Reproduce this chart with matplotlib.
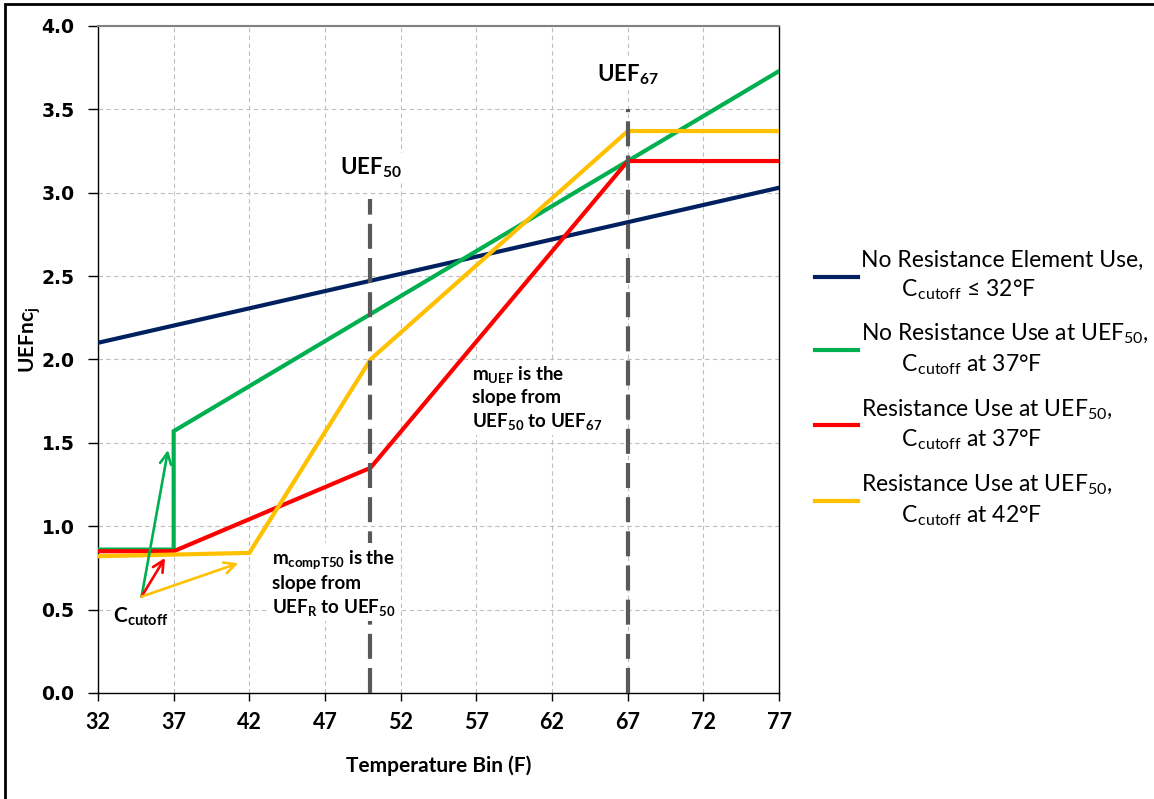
import matplotlib
matplotlib.use("Agg")
import matplotlib.pyplot as plt
from matplotlib.patches import Rectangle

plt.rcParams['font.family'] = ['Lato', 'DejaVu Sans']
plt.rcParams['mathtext.fontset'] = 'custom'
plt.rcParams['mathtext.rm'] = 'Lato'
plt.rcParams['mathtext.it'] = 'Lato:italic'
plt.rcParams['mathtext.bf'] = 'Lato:weight=bold'

# temperature bins (F) where each curve changes slope
blue_t = [32, 77]
blue_v = [2.10, 3.03]
green_t = [32, 37, 37, 67, 77]
green_v = [0.86, 0.86, 1.57, 3.19, 3.73]
red_t = [32, 37, 50, 67, 77]
red_v = [0.85, 0.85, 1.35, 3.19, 3.19]
yellow_t = [32, 42, 50, 67, 77]
yellow_v = [0.82, 0.84, 2.00, 3.37, 3.37]

labels = [
    "No Resistance Element Use,\n       C$_{\\mathrm{cutoff}}$ \u2264 32\u00b0F",
    "No Resistance Use at UEF$_{50}$,\n       C$_{\\mathrm{cutoff}}$ at 37\u00b0F",
    "Resistance Use at UEF$_{50}$,\n       C$_{\\mathrm{cutoff}}$ at 37\u00b0F",
    "Resistance Use at UEF$_{50}$,\n       C$_{\\mathrm{cutoff}}$ at 42\u00b0F",
]
colors = ['#002060', '#00B050', '#FF0000', '#FFC000']

x_ticks = list(range(32, 78, 5))
y_ticks = [0.0, 0.5, 1.0, 1.5, 2.0, 2.5, 3.0, 3.5, 4.0]

# reference temperatures and heights of the dashed markers
uef_marks = [50, 67]
uef_tops = [2.96, 3.50]

# cutoff arrows: common start, one head per curve
arrow_start = (34.88, 0.578)
arrow_heads = [(36.63, 1.457), (36.43, 0.81), (41.27, 0.778)]
arrow_colors = ['#00B050', '#FF0000', '#FFC000']

fig = plt.figure(figsize=(11.54, 7.99), dpi=100)
ax = fig.add_axes([0.0849, 0.1327, 0.5903, 0.8348])

series = [(blue_t, blue_v), (green_t, green_v), (red_t, red_v), (yellow_t, yellow_v)]
handles = []
for (t, v), c in zip(series, colors):
    ln, = ax.plot(t, v, color=c, lw=3, solid_joinstyle='miter', zorder=3)
    handles.append(ln)

ax.vlines(uef_marks, 0, uef_tops, colors='#595959', lw=3,
          linestyles=(0, (6, 2.2)), zorder=4)

for (hx, hy), c in zip(arrow_heads, arrow_colors):
    ax.annotate('', xy=(hx, hy), xytext=arrow_start,
                arrowprops=dict(arrowstyle='->,head_length=0.8,head_width=0.4',
                                color=c, lw=1.9, shrinkA=0, shrinkB=0),
                zorder=5)

# text boxes are opaque, so they mask the grid and dashed markers behind them
box = dict(facecolor='white', edgecolor='none', pad=2)
ax.text(34.84, 0.455, r'$\mathbf{C_{cutoff}}$', fontsize=15, ha='center', va='center',
        bbox=box, zorder=6)
ax.text(43.47, 0.66, "$\\mathbf{m_{compT50}}$ is the\nslope from\n$\\mathbf{UEF_{R}}$ to $\\mathbf{UEF_{50}}$",
        fontsize=13.5, fontweight='bold', ha='left', va='center', linespacing=1.3,
        bbox=box, zorder=6)
ax.text(56.69, 1.77, "$\\mathbf{m_{UEF}}$ is the\nslope from\n$\\mathbf{UEF_{50}}$ to $\\mathbf{UEF_{67}}$",
        fontsize=13.5, fontweight='bold', ha='left', va='center', linespacing=1.3,
        bbox=box, zorder=6)
ax.text(50, 3.15, r'$\mathbf{UEF_{50}}$', fontsize=16, ha='center', va='center',
        bbox=box, zorder=6)
ax.text(67, 3.71, r'$\mathbf{UEF_{67}}$', fontsize=16, ha='center', va='center',
        bbox=box, zorder=6)

ax.set_xlim(32, 77)
ax.set_ylim(0, 4)
ax.set_xticks(x_ticks)
ax.set_yticks(y_ticks)
ax.set_yticklabels([f'{y:.1f}' for y in y_ticks], family='DejaVu Sans',
                   fontweight='bold', fontsize=13.5)
ax.set_xticklabels([str(x) for x in x_ticks], fontweight='bold', fontsize=15.5)
ax.tick_params(axis='x', direction='out', length=6, width=1, pad=8)
ax.tick_params(axis='y', direction='out', length=7, width=1, pad=10)
ax.grid(True, color='#BFBFBF', lw=0.8, linestyle=(0, (4, 3)))
ax.set_axisbelow(True)
for s in ['left', 'bottom', 'right']:
    ax.spines[s].set_color('black')
    ax.spines[s].set_linewidth(1)
ax.spines['top'].set_color('#808080')
ax.spines['top'].set_linewidth(1.5)

ax.set_xlabel('Temperature Bin (F)', fontsize=15, fontweight='bold', labelpad=16)
ax.set_ylabel(r'$\mathbf{UEFnc_{j}}$', fontsize=15)
ax.yaxis.set_label_coords(-0.08, 0.529)

leg = ax.legend(handles, labels, loc='upper left', bbox_to_anchor=(0.7062, 0.687),
                bbox_transform=fig.transFigure, frameon=False, fontsize=16.5,
                handlelength=1.88, handletextpad=0.13, labelspacing=0.88,
                borderpad=0, borderaxespad=0)
for t in leg.get_texts():
    t.set_linespacing(1.33)

# outer frame around the figure
fig.patches.append(Rectangle((0.0043, -0.05), 1.2, 0.995 + 0.05, transform=fig.transFigure,
                             fill=False, edgecolor='black', lw=2, clip_on=False))

fig.savefig('out.png', dpi=100)
